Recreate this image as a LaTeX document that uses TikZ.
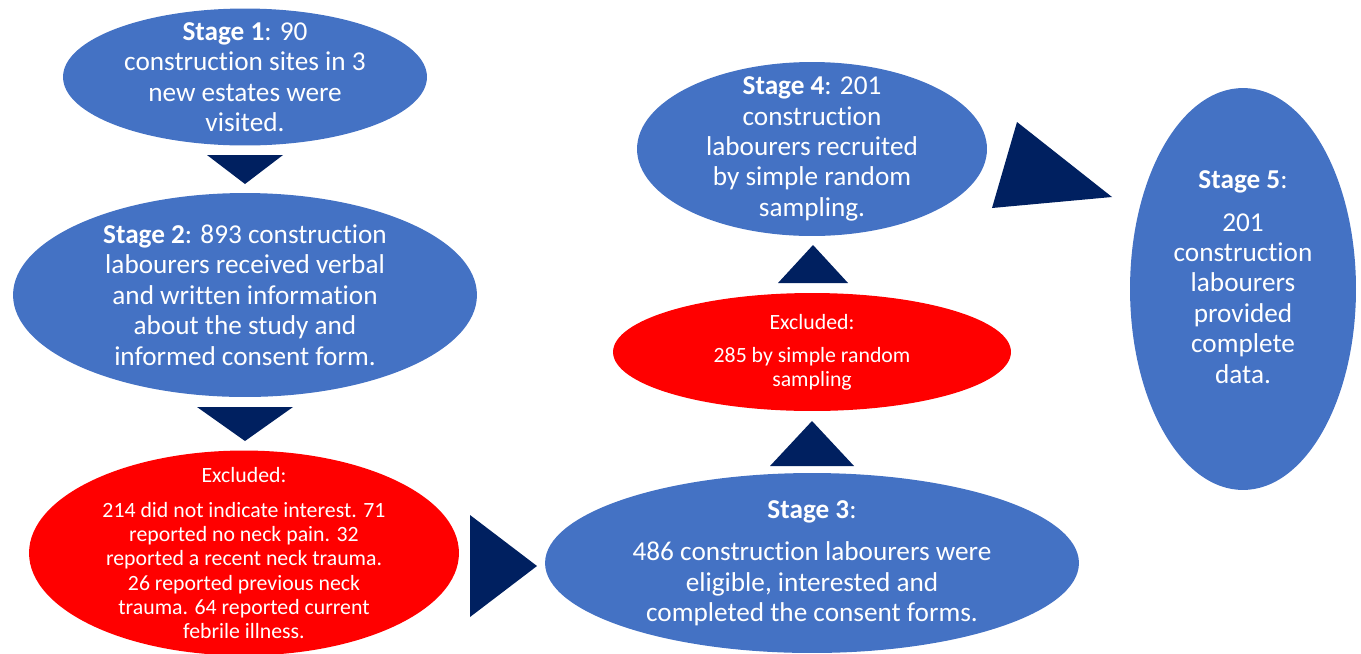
\documentclass[tikz,border=0pt]{standalone}
\usepackage{fontspec}
\setmainfont{Carlito}[Ligatures=NoCommon]
\usepackage{tikz}
\usetikzlibrary{shapes.geometric}

\definecolor{stageblue}{HTML}{4472C4}
\definecolor{exred}{HTML}{FF0000}
\definecolor{navy}{HTML}{002060}

\begin{document}
\begin{tikzpicture}[
  x=0.02cm, y=-0.02cm,
  every node/.style={text=white, align=center},
  stage/.style={ellipse, fill=stageblue, inner sep=-20pt,
    font=\fontsize{15.5}{17.3}\selectfont},
  excl/.style={ellipse, fill=exred, inner sep=-20pt,
    font=\fontsize{12.4}{13.8}\selectfont},
  tri/.style={fill=navy}
]
  \useasboundingbox (0,0) rectangle (1361,653);
  % colonna di sinistra
  \node[stage, minimum width=7.28cm, minimum height=2.74cm] (s1) at (245,77)
    {\textbf{Stage 1}: 90\\construction sites in 3\\new estates were\\visited.};
  \node[stage, minimum width=9.28cm, minimum height=4.08cm] (s2) at (245,295)
    {\textbf{Stage 2}: 893 construction\\labourers received verbal\\and written information\\about the study and\\informed consent form.};
  \node[excl, minimum width=8.6cm, minimum height=4.1cm] (ex1) at (244,553)
    {Excluded:\\[6pt]214 did not indicate interest. 71\\reported no neck pain. 32\\reported a recent neck trauma.\\26 reported previous neck\\trauma. 64 reported current\\febrile illness.};

  % colonna centrale
  \node[stage, minimum width=10.68cm, minimum height=3.6cm] (s3) at (812,563)
    {\textbf{Stage 3}:\\[7pt]486 construction labourers were\\eligible, interested and\\completed the consent forms.};
  \node[excl, minimum width=7.96cm, minimum height=2.36cm] (ex2) at (812,352)
    {Excluded:\\[5pt]285 by simple random\\sampling};
  \node[stage, minimum width=7.0cm, minimum height=3.48cm] (s4) at (812,149)
    {\textbf{Stage 4}: 201\\construction\\labourers recruited\\by simple random\\sampling.};

  % colonna di destra
  \node[stage, minimum width=4.52cm, minimum height=8.04cm] (s5) at (1243,289)
    {\textbf{Stage 5}:\\[7pt]201\\construction\\labourers\\provided\\complete\\data.\\[-3.4pt]\mbox{}};

  % frecce
  \fill[tri] (207,155) -- (283,155) -- (245,184) -- cycle;
  \fill[tri] (197,407) -- (293,407) -- (245,441) -- cycle;
  \fill[tri] (470,515) -- (470,617) -- (537,566) -- cycle;
  \fill[tri] (770,466) -- (854,466) -- (812,421) -- cycle;
  \fill[tri] (778,283) -- (848,283) -- (813,245) -- cycle;
  \fill[tri] (1017,122) -- (992,208) -- (1112,197) -- cycle;
\end{tikzpicture}
\end{document}
